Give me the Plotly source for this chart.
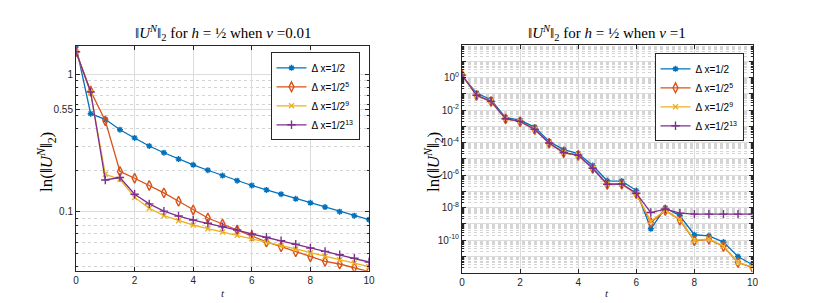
import plotly.graph_objects as go

t = [0, 0.5, 1, 1.5, 2, 2.5, 3, 3.5, 4, 4.5, 5, 5.5, 6, 6.5, 7, 7.5, 8, 8.5, 9, 9.5, 10]
series_names = ["Δ x=1/2", "Δ x=1/2<sup>5</sup>", "Δ x=1/2<sup>9</sup>", "Δ x=1/2<sup>13</sup>"]

# nu = 0.01
nu001_dx1 = [1.6, 0.515, 0.469, 0.394, 0.343, 0.300, 0.268, 0.241, 0.219, 0.200, 0.183,
             0.168, 0.155, 0.144, 0.134, 0.124, 0.116, 0.108, 0.100, 0.0935, 0.0875]
nu001_dx5 = [1.45, 0.753, 0.458, 0.196, 0.175, 0.155, 0.137, 0.119, 0.103, 0.090, 0.0814,
             0.0736, 0.0666, 0.0603, 0.0557, 0.0512, 0.0471, 0.0436, 0.0417, 0.0393, 0.0367]
nu001_dx9 = [1.45, 0.73, 0.187, 0.172, 0.127, 0.106, 0.0936, 0.0861, 0.080, 0.0753, 0.0713,
             0.0673, 0.0637, 0.060, 0.0569, 0.0536, 0.0504, 0.0474, 0.0448, 0.0424, 0.0399]
nu001_dx13 = [1.45, 0.74, 0.170, 0.177, 0.134, 0.114, 0.101, 0.093, 0.087, 0.0824, 0.0778,
              0.0736, 0.0689, 0.0652, 0.0616, 0.058, 0.0545, 0.0515, 0.0487, 0.0459, 0.0431]

# nu = 1
nu1_dx1 = [1.3, 0.11, 0.043, 3.4e-3, 2.4e-3, 8.9e-4, 1.15e-4, 3.7e-5, 2.1e-5, 3.8e-6, 4.4e-7,
           4.2e-7, 1.1e-7, 4.9e-10, 9.5e-9, 3.1e-9, 2.1e-10, 1.8e-10, 7.4e-11, 9.6e-12, 3e-12]
nu1_dx5 = [1.5, 0.078, 0.033, 2.8e-3, 1.9e-3, 6.3e-4, 9.1e-5, 2.3e-5, 1.6e-5, 2.5e-6, 2.6e-7,
           2.7e-7, 6.9e-8, 1.2e-9, 6.6e-9, 1.7e-9, 9e-11, 1.1e-10, 4e-11, 4.1e-12, 2e-12]
nu1_dx9 = [1.45, 0.08, 0.034, 2.9e-3, 2.0e-3, 6.5e-4, 9.3e-5, 2.4e-5, 1.7e-5, 2.6e-6, 2.7e-7,
           2.8e-7, 7.1e-8, 1.4e-9, 6.9e-9, 1.8e-9, 9.5e-11, 1.15e-10, 4.2e-11, 4.3e-12, 2.1e-12]
nu1_dx13 = [1.4, 0.08, 0.034, 2.9e-3, 2.0e-3, 6.5e-4, 9.3e-5, 2.4e-5, 1.7e-5, 2.6e-6, 2.7e-7,
            2.8e-7, 7.5e-8, 4.9e-9, 8e-9, 4.5e-9, 3.9e-9, 3.9e-9, 3.9e-9, 3.9e-9, 3.9e-9]

left_yticks = [0.1, 0.55, 1]
left_yticktext = ["0.1", "0.55", "1"]
right_decades = [-12, -11, -10, -9, -8, -7, -6, -5, -4, -3, -2, -1, 0, 1, 2]
xticks = [0, 2, 4, 6, 8, 10]

colors = ["#0072BD", "#D95319", "#EDB120", "#7E2F8E"]
symbols = ["asterisk-open", "diamond-tall-open", "x-thin-open", "cross-thin-open"]
msizes = [5, 7, 5, 6]

fig = go.Figure()

left_data = [nu001_dx1, nu001_dx5, nu001_dx9, nu001_dx13]
right_data = [nu1_dx1, nu1_dx5, nu1_dx9, nu1_dx13]

for i in range(4):
    fig.add_trace(go.Scatter(
        x=t, y=left_data[i], mode="lines+markers", name=series_names[i],
        line=dict(color=colors[i], width=1.3),
        marker=dict(symbol=symbols[i], size=msizes[i], color=colors[i],
                    line=dict(color=colors[i], width=1.4)),
        xaxis="x", yaxis="y", legend="legend"))
for i in range(4):
    fig.add_trace(go.Scatter(
        x=t, y=right_data[i], mode="lines+markers", name=series_names[i],
        line=dict(color=colors[i], width=1.3),
        marker=dict(symbol=symbols[i], size=msizes[i], color=colors[i],
                    line=dict(color=colors[i], width=1.4)),
        xaxis="x2", yaxis="y2", legend="legend2"))

# the page body has an 8px margin; the figure fills the rest of the window
OFF = 8
W, H = 818 - OFF, 303 - OFF
def px(xp):
    return (xp - OFF) / W
def py(yp):
    return 1 - (yp - OFF) / H

tickfont = dict(family="Liberation Sans", size=10, color="#262626")
grid = "#dcdcdc"
minor_grid = "#d4d4d4"
axis_common = dict(showline=True, linecolor="#262626", linewidth=1, mirror="ticks",
                   ticks="inside", ticklen=4, tickcolor="#262626", tickfont=tickfont,
                   showgrid=True, gridcolor=grid, gridwidth=1, zeroline=False,
                   automargin=False)

left_minor = []
for d in [0.01, 0.1, 1]:
    for m in range(2, 10):
        left_minor.append(m * d)
right_minor = []
for d in right_decades:
    for m in range(2, 10):
        right_minor.append(m * 10.0 ** d)
right_tickvals = [10.0 ** d for d in right_decades]
right_ticktext = [("10<sup>%d</sup>" % d) if (d % 2 == 0 and -10 <= d <= 0) else "" for d in right_decades]

legend_style = dict(xanchor="right", yanchor="top", bgcolor="white", bordercolor="#262626",
                    borderwidth=1, font=dict(family="Liberation Sans", size=10, color="#000000"),
                    itemwidth=30, tracegroupgap=0)

fig.update_layout(
    width=W, height=H, margin=dict(l=0, r=0, t=0, b=0, autoexpand=False),
    paper_bgcolor="white", plot_bgcolor="white",
    xaxis=dict(domain=[px(76), px(369)], range=[0, 10], tickvals=xticks, anchor="y", **axis_common),
    yaxis=dict(domain=[py(270.7), py(45.7)], type="log", range=[-1.4285, 0.2055],
               tickvals=left_yticks, ticktext=left_yticktext, anchor="x",
               minor=dict(tickvals=left_minor, ticks="inside", ticklen=2, tickcolor="#262626",
                          showgrid=True, gridcolor=minor_grid, griddash="dot", gridwidth=1),
               **axis_common),
    xaxis2=dict(domain=[px(462), px(752.5)], range=[0, 10], tickvals=xticks, anchor="y2", **axis_common),
    yaxis2=dict(domain=[py(272.5), py(45)], type="log", range=[-12, 2],
                tickvals=right_tickvals, ticktext=right_ticktext, anchor="x2",
                minor=dict(tickvals=right_minor, ticks="inside", ticklen=2, tickcolor="#262626",
                           showgrid=True, gridcolor=minor_grid, griddash="dot", gridwidth=1),
                **axis_common),
    legend=dict(x=px(359.5), y=py(52.3), **legend_style),
    legend2=dict(x=px(743.5), y=py(53.3), **legend_style),
    showlegend=True,
)

serif = "Liberation Serif"
ann = []
ann.append(dict(text="‖<i>U</i><sup><i>N</i></sup>‖<sub>2</sub> for <i>h</i> = ½ when <i>ν</i> =0.01",
                x=px(222.5), y=py(33), xref="paper", yref="paper", showarrow=False,
                xanchor="center", yanchor="middle",
                font=dict(family=serif, size=15, color="#000000")))
ann.append(dict(text="‖<i>U</i><sup><i>N</i></sup>‖<sub>2</sub> for <i>h</i> = ½ when <i>ν</i> =1",
                x=px(607), y=py(33), xref="paper", yref="paper", showarrow=False,
                xanchor="center", yanchor="middle",
                font=dict(family=serif, size=15, color="#000000")))
for xc, yc in [(46, 162), (433, 162)]:
    ann.append(dict(text="ln(‖<i>U</i><sup><i>N</i></sup>‖<sub>2</sub>)", textangle=-90,
                    x=px(xc), y=py(yc), xref="paper", yref="paper", showarrow=False,
                    xanchor="center", yanchor="middle",
                    font=dict(family=serif, size=17, color="#000000")))
for xc in [222.5, 607]:
    ann.append(dict(text="<i>t</i>", x=px(xc), y=py(293), xref="paper", yref="paper",
                    showarrow=False, xanchor="center", yanchor="middle",
                    font=dict(family=serif, size=11, color="#262626")))
fig.update_layout(annotations=ann)

fig.write_html("out.html")
